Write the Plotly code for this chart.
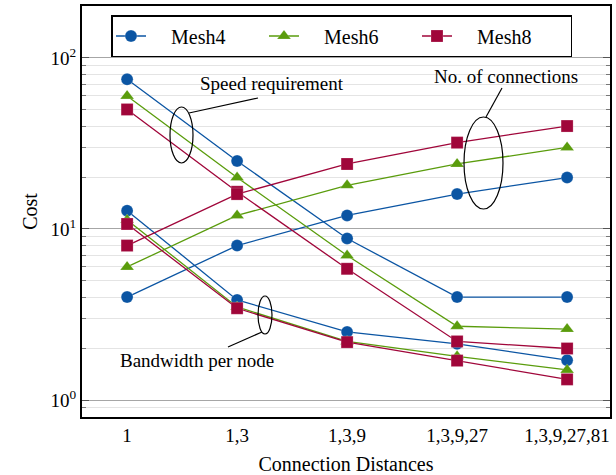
import plotly.graph_objects as go

# ---------------- data ----------------
categories = ["1", "1,3", "1,3,9", "1,3,9,27", "1,3,9,27,81"]

mesh4_speed = [75, 25, 8.8, 4.0, 4.0]
mesh6_speed = [60, 20, 7.0, 2.7, 2.6]
mesh8_speed = [50, 16.5, 5.85, 2.2, 2.0]

mesh4_conn = [4, 8, 12, 16, 20]
mesh6_conn = [6, 12, 18, 24, 30]
mesh8_conn = [8, 16, 24, 32, 40]

mesh4_bw = [12.8, 3.85, 2.5, 2.13, 1.71]
mesh6_bw = [11.3, 3.5, 2.2, 1.8, 1.5]
mesh8_bw = [10.7, 3.44, 2.18, 1.70, 1.32]

y_tickvals = [1, 10, 100]
y_ticktext = ["10<sup>0</sup>", "10<sup>1</sup>", "10<sup>2</sup>"]

series = [
    ("Mesh4", "#0b55a3", "circle", 12, [mesh4_speed, mesh4_conn, mesh4_bw]),
    ("Mesh6", "#5a9c0c", "triangle-up", 12, [mesh6_speed, mesh6_conn, mesh6_bw]),
    ("Mesh8", "#a0063a", "square", 12, [mesh8_speed, mesh8_conn, mesh8_bw]),
]

FONT = "Liberation Serif, serif"
W, H = 616, 475
L, R, T, B = 82, 6, 6, 58
PW, PH = W - L - R, H - T - B


def px(x):
    return (x - L) / PW


def py(y):
    return (H - B - y) / PH


xs = list(range(len(categories)))

fig = go.Figure()
for name, color, sym, size, groups in series:
    for gi, vals in enumerate(groups):
        fig.add_trace(go.Scatter(
            x=xs, y=vals, mode="lines+markers", name="\u2003" + name,
            legendgroup=name, showlegend=(gi == 0),
            line=dict(color=color, width=1.3),
            marker=dict(symbol=sym, size=size, color=color,
                        line=dict(width=0.6, color="rgba(255,255,255,0.35)")),
        ))

shapes = []
annotations = []

# ellipses + leader lines
ellipses = [(170, 107, 193, 163), (464, 117, 503, 209), (258, 296, 272, 334)]
for x0, y0, x1, y1 in ellipses:
    shapes.append(dict(type="circle", xref="paper", yref="paper",
                       x0=px(x0), x1=px(x1), y0=py(y1), y1=py(y0),
                       line=dict(color="black", width=1.2)))
leaders = [((189, 113), (258, 98)), ((486, 117), (502, 88)), ((262, 332), (228, 347))]
for (ax0, ay0), (ax1, ay1) in leaders:
    shapes.append(dict(type="line", xref="paper", yref="paper",
                       x0=px(ax0), y0=py(ay0), x1=px(ax1), y1=py(ay1),
                       line=dict(color="black", width=1.2)))

labels = [("Speed requirement", 272, 83), ("No. of connections", 506, 76),
          ("Bandwidth per node", 197, 360)]
for text, x, y in labels:
    annotations.append(dict(text=text, xref="paper", yref="paper", x=px(x), y=py(y),
                            showarrow=False, xanchor="center", yanchor="middle",
                            font=dict(family=FONT, size=19, color="black"),
                            bgcolor="rgba(0,0,0,0)"))

fig.update_layout(
    width=W, height=H,
    margin=dict(l=L, r=R, t=T, b=B, pad=0, autoexpand=False),
    paper_bgcolor="white", plot_bgcolor="white",
    font=dict(family=FONT, size=19, color="black"),
    shapes=shapes, annotations=annotations,
    legend=dict(orientation="h", x=px(111), y=py(15), xanchor="left", yanchor="top",
                bgcolor="white", bordercolor="black", borderwidth=1.5,
                font=dict(family=FONT, size=20), entrywidth=108,
                itemwidth=30, tracegroupgap=0),
)

fig.update_xaxes(
    range=[-0.41, 4.39], tickmode="array", tickvals=xs, ticktext=categories,
    showgrid=False, zeroline=False, ticks="", showline=True, linecolor="black",
    linewidth=2, mirror=True, tickfont=dict(family=FONT, size=19), automargin=False,
    title=dict(text="Connection Distances", font=dict(family=FONT, size=20), standoff=16),
)
fig.update_yaxes(
    type="log", range=[-0.0994, 2.304], tickmode="array", tickvals=y_tickvals,
    ticktext=y_ticktext, showgrid=True, gridcolor="#a6a6a6", gridwidth=1.3,
    ticks="inside", ticklen=7, tickcolor="#555", showline=True, linecolor="black",
    linewidth=2, mirror="allticks", tickfont=dict(family=FONT, size=19),
    zeroline=False, automargin=False,
    minor=dict(dtick="D1", showgrid=True, gridcolor="#e4e4e4", gridwidth=1.3,
               ticks="inside", ticklen=4, tickcolor="#777"),
    title=dict(text="Cost", font=dict(family=FONT, size=20), standoff=8),
)

fig.write_html("out.html")
